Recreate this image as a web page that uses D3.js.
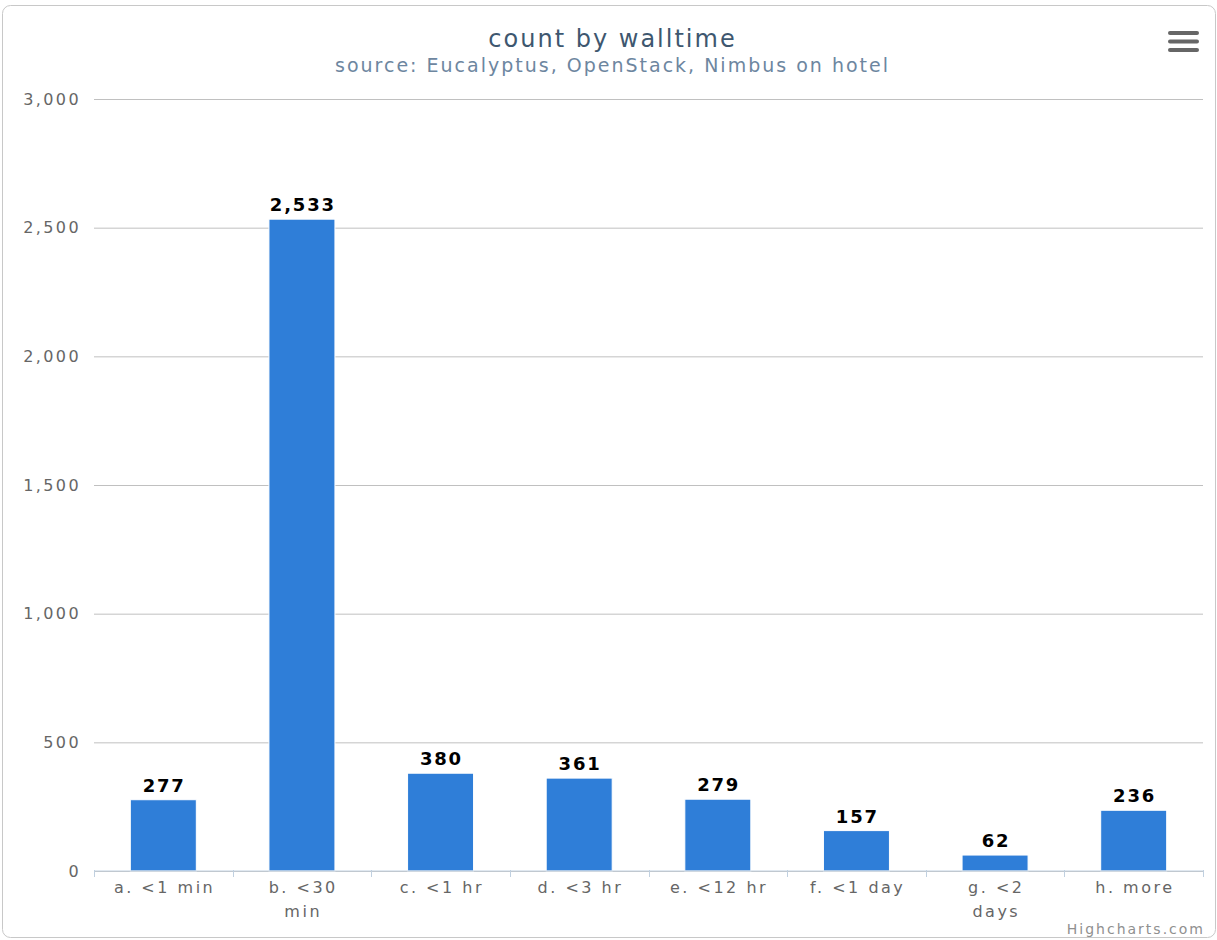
<!DOCTYPE html>
<html>
<head>
<meta charset="utf-8">
<script src="https://cdn.jsdelivr.net/npm/d3@7"></script>
<style>
  html, body { margin: 0; padding: 0; background: #fff; }
  svg { display: block; font-family: "DejaVu Sans", sans-serif; }
</style>
</head>
<body>
<svg id="chart" width="1217" height="940"></svg>
<script>
// Job counts grouped by wall-clock duration
const categories = ["a. <1 min", "b. <30 min", "c. <1 hr", "d. <3 hr", "e. <12 hr", "f. <1 day", "g. <2 days", "h. more"];
const counts = [277, 2533, 380, 361, 279, 157, 62, 236];
const yTicks = [0, 500, 1000, 1500, 2000, 2500, 3000];
const titleText = "count by walltime";
const subtitleText = "source: Eucalyptus, OpenStack, Nimbus on hotel";
const creditText = "Highcharts.com";

const W = 1217, H = 940;
const plot = { left: 94, right: 1203, top: 99, bottom: 871 };

const svg = d3.select("#chart");

// outer frame
svg.append("rect")
  .attr("x", 2.5).attr("y", 5.5)
  .attr("width", W - 4).attr("height", H - 8)
  .attr("rx", 8).attr("ry", 8)
  .attr("fill", "#fff").attr("stroke", "#c8c8c8").attr("stroke-width", 1);

const x = d3.scaleBand().domain(categories).range([plot.left, plot.right]).paddingInner(0).paddingOuter(0);
const y = d3.scaleLinear().domain([0, 3000]).range([plot.bottom, plot.top]);
const fmt = d3.format(",");

// titles
const titleLs = 2;
svg.append("text").attr("x", W / 2 + 3 + titleLs / 2).attr("y", 47)
  .attr("text-anchor", "middle").attr("fill", "#3e576f").attr("font-size", 24)
  .attr("letter-spacing", titleLs)
  .text(titleText);
svg.append("text").attr("x", W / 2 + 3 + titleLs / 2).attr("y", 72)
  .attr("text-anchor", "middle").attr("fill", "#6d869f").attr("font-size", 19)
  .attr("letter-spacing", titleLs)
  .text(subtitleText);

// context menu icon
const menu = svg.append("g").attr("stroke", "#666").attr("stroke-width", 4).attr("stroke-linecap", "round");
[33, 41.5, 50].forEach(yy => menu.append("line").attr("x1", 1170).attr("x2", 1197).attr("y1", yy).attr("y2", yy));

// gridlines + y labels
const yAxis = d3.axisLeft(y).tickValues(yTicks).tickFormat(fmt).tickSize(-(plot.right - plot.left)).tickPadding(13);
const gy = svg.append("g").attr("transform", `translate(${plot.left},0)`).call(yAxis);
gy.select(".domain").remove();
gy.selectAll(".tick line").attr("stroke", "#c0c0c0").attr("stroke-width", 1);
gy.selectAll(".tick text").attr("fill", "#666").attr("font-size", 16)
  .attr("font-family", "DejaVu Sans").attr("letter-spacing", 2.4);

// bars
const barW = 66;
svg.append("g").selectAll("rect").data(counts).join("rect")
  .attr("x", (d, i) => x(categories[i]) + x.bandwidth() / 2 - barW / 2)
  .attr("y", d => y(d))
  .attr("width", barW)
  .attr("height", d => y(0) - y(d))
  .attr("fill", "#2f7ed8").attr("stroke", "#fff").attr("stroke-width", 1);

// value labels
const valLs = 1.8;
svg.append("g").selectAll("text").data(counts).join("text")
  .attr("x", (d, i) => x(categories[i]) + x.bandwidth() / 2 + valLs / 2)
  .attr("y", d => y(d) - 8)
  .attr("text-anchor", "middle").attr("font-weight", "bold").attr("font-size", 18).attr("fill", "#000")
  .attr("letter-spacing", valLs)
  .text(d => fmt(d));

// x axis
const xAxis = d3.axisBottom(x).tickSize(0).tickFormat("");
const gx = svg.append("g").attr("transform", `translate(0,${plot.bottom - 0.5})`).call(xAxis);
gx.select(".domain").attr("stroke", "#c0d0e0").attr("stroke-width", 1);
// boundary ticks
const bounds = categories.map(c => x(c)).concat([plot.right]);
svg.append("g").selectAll("line").data(bounds).join("line")
  .attr("x1", d => Math.round(d) + 0.5).attr("x2", d => Math.round(d) + 0.5)
  .attr("y1", plot.bottom - 1).attr("y2", plot.bottom + 6)
  .attr("stroke", "#c0d0e0").attr("stroke-width", 1);

// category labels, wrapped to fit the band
const catLs = 2.5;
categories.forEach(c => {
  const cx = x(c) + x.bandwidth() / 2 + catLs / 2;
  const t = svg.append("text").attr("x", cx).attr("y", 893)
    .attr("text-anchor", "middle").attr("fill", "#666").attr("font-size", 16)
    .attr("letter-spacing", catLs);
  const words = c.split(" ");
  let line = [], lines = [];
  const probe = svg.append("text").attr("font-size", 16).attr("letter-spacing", catLs);
  words.forEach(w => {
    const test = line.concat(w).join(" ");
    probe.text(test);
    if (probe.node().getComputedTextLength() > 110 && line.length) {
      lines.push(line.join(" ")); line = [w];
    } else line.push(w);
  });
  lines.push(line.join(" "));
  probe.remove();
  lines.forEach((l, i) => t.append("tspan").attr("x", cx).attr("dy", i ? 24 : 0).text(l));
});

// credits
svg.append("text").attr("x", 1205).attr("y", 934)
  .attr("text-anchor", "end").attr("fill", "#909090").attr("font-size", 14)
  .attr("letter-spacing", 2)
  .text(creditText);
</script>
</body>
</html>
